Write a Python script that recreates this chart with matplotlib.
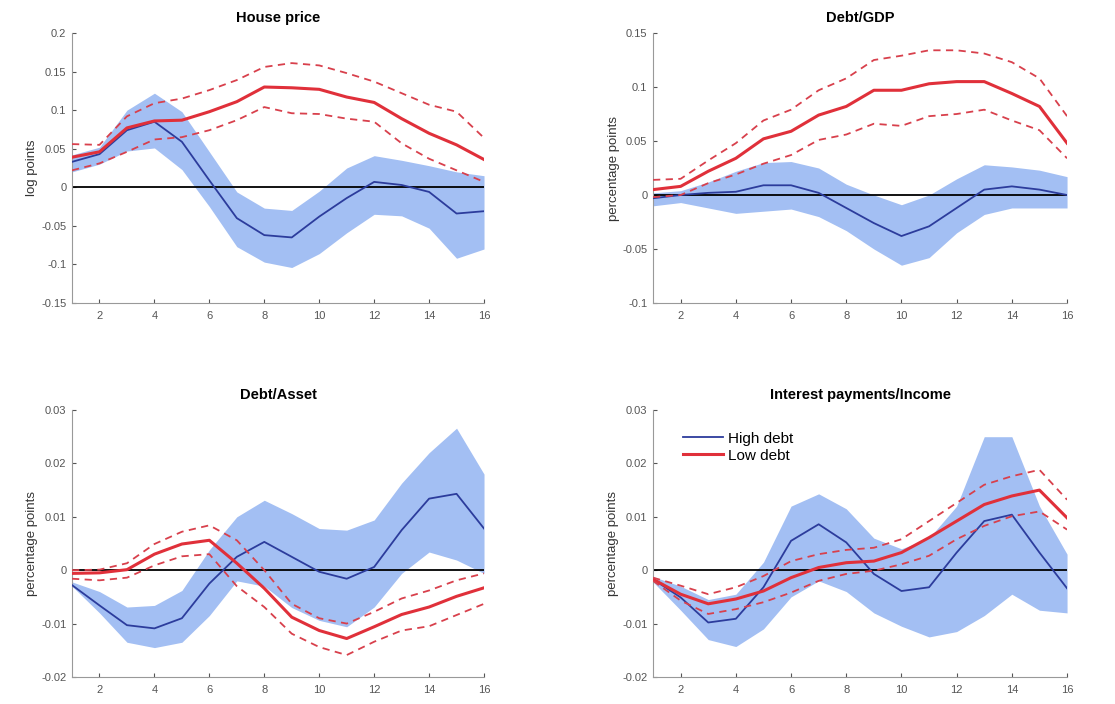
import matplotlib.pyplot as plt
import numpy as np
from matplotlib.ticker import FormatStrFormatter, FuncFormatter

plt.rcParams['font.family'] = ['Liberation Sans', 'DejaVu Sans']

h = np.arange(1, 17)

# House price
hp_low = [0.039, 0.046, 0.077, 0.086, 0.087, 0.098, 0.111, 0.130, 0.129, 0.127, 0.117, 0.110, 0.089, 0.070, 0.055, 0.036]
hp_low_up = [0.056, 0.055, 0.092, 0.109, 0.115, 0.126, 0.139, 0.156, 0.161, 0.158, 0.148, 0.137, 0.122, 0.107, 0.098, 0.064]
hp_low_lo = [0.022, 0.031, 0.046, 0.062, 0.065, 0.074, 0.087, 0.104, 0.096, 0.095, 0.089, 0.085, 0.057, 0.037, 0.022, 0.007]
hp_high = [0.033, 0.043, 0.074, 0.085, 0.059, 0.009, -0.040, -0.062, -0.065, -0.038, -0.014, 0.007, 0.003, -0.006, -0.034, -0.031]
hp_high_up = [0.042, 0.052, 0.100, 0.122, 0.098, 0.046, -0.006, -0.027, -0.030, -0.005, 0.025, 0.041, 0.035, 0.028, 0.020, 0.015]
hp_high_lo = [0.020, 0.030, 0.047, 0.051, 0.023, -0.025, -0.077, -0.097, -0.104, -0.086, -0.059, -0.035, -0.037, -0.053, -0.092, -0.080]

# Debt/GDP
dg_low = [0.005, 0.008, 0.022, 0.034, 0.052, 0.059, 0.074, 0.082, 0.097, 0.097, 0.103, 0.105, 0.105, 0.094, 0.082, 0.048]
dg_low_up = [0.014, 0.015, 0.032, 0.048, 0.069, 0.079, 0.097, 0.108, 0.125, 0.129, 0.134, 0.134, 0.131, 0.123, 0.108, 0.073]
dg_low_lo = [-0.002, 0.000, 0.011, 0.019, 0.029, 0.037, 0.051, 0.056, 0.066, 0.064, 0.073, 0.075, 0.079, 0.069, 0.060, 0.034]
dg_high = [-0.003, 0.000, 0.002, 0.003, 0.009, 0.009, 0.002, -0.012, -0.026, -0.038, -0.029, -0.012, 0.005, 0.008, 0.005, 0.000]
dg_high_up = [0.002, 0.004, 0.012, 0.022, 0.030, 0.031, 0.025, 0.010, 0.000, -0.009, 0.000, 0.015, 0.028, 0.026, 0.023, 0.017]
dg_high_lo = [-0.010, -0.007, -0.012, -0.017, -0.015, -0.013, -0.020, -0.033, -0.050, -0.065, -0.058, -0.035, -0.018, -0.012, -0.012, -0.012]

# Debt/Asset
da_low = [-0.0006, -0.0005, 0.0001, 0.0030, 0.0049, 0.0056, 0.0013, -0.0034, -0.0088, -0.0113, -0.0128, -0.0106, -0.0083, -0.0069, -0.0049, -0.0033]
da_low_up = [0.0000, 0.0001, 0.0013, 0.0049, 0.0072, 0.0084, 0.0056, 0.0000, -0.0063, -0.0090, -0.0100, -0.0078, -0.0053, -0.0038, -0.0019, -0.0006]
da_low_lo = [-0.0016, -0.0019, -0.0014, 0.0009, 0.0026, 0.0030, -0.0030, -0.0069, -0.0119, -0.0144, -0.0159, -0.0134, -0.0113, -0.0105, -0.0084, -0.0063]
da_high = [-0.0028, -0.0066, -0.0103, -0.0109, -0.0090, -0.0025, 0.0025, 0.0053, 0.0025, -0.0003, -0.0016, 0.0006, 0.0075, 0.0134, 0.0143, 0.0078]
da_high_up = [-0.0022, -0.0040, -0.0069, -0.0066, -0.0038, 0.0038, 0.0100, 0.0131, 0.0106, 0.0078, 0.0075, 0.0094, 0.0163, 0.0220, 0.0266, 0.0180]
da_high_lo = [-0.0030, -0.0080, -0.0135, -0.0145, -0.0135, -0.0085, -0.0020, -0.0030, -0.0070, -0.0094, -0.0106, -0.0069, -0.0006, 0.0034, 0.0019, -0.0006]

# Interest payments/Income
ip_low = [-0.0017, -0.0045, -0.0063, -0.0054, -0.0039, -0.0014, 0.0005, 0.0014, 0.0017, 0.0033, 0.0061, 0.0092, 0.0123, 0.0139, 0.0150, 0.0098]
ip_low_up = [-0.0014, -0.0029, -0.0045, -0.0032, -0.0011, 0.0017, 0.0030, 0.0038, 0.0042, 0.0058, 0.0092, 0.0126, 0.0160, 0.0176, 0.0188, 0.0132]
ip_low_lo = [-0.0020, -0.0057, -0.0082, -0.0073, -0.0060, -0.0042, -0.0020, -0.0007, -0.0001, 0.0011, 0.0027, 0.0058, 0.0083, 0.0101, 0.0110, 0.0076]
ip_high = [-0.0017, -0.0051, -0.0098, -0.0091, -0.0032, 0.0055, 0.0086, 0.0052, -0.0007, -0.0039, -0.0032, 0.0033, 0.0092, 0.0104, 0.0033, -0.0034]
ip_high_up = [-0.0012, -0.0030, -0.0055, -0.0045, 0.0015, 0.0120, 0.0143, 0.0115, 0.0060, 0.0040, 0.0060, 0.0120, 0.0250, 0.0250, 0.0120, 0.0030]
ip_high_lo = [-0.0022, -0.0075, -0.0130, -0.0143, -0.0110, -0.0050, -0.0020, -0.0040, -0.0080, -0.0105, -0.0125, -0.0115, -0.0085, -0.0045, -0.0075, -0.0080]

panels = [
    ('House price', 'log points', hp_low, hp_low_up, hp_low_lo, hp_high, hp_high_up, hp_high_lo,
     (-0.15, 0.2), np.arange(-0.15, 0.21, 0.05)),
    ('Debt/GDP', 'percentage points', dg_low, dg_low_up, dg_low_lo, dg_high, dg_high_up, dg_high_lo,
     (-0.1, 0.15), np.arange(-0.1, 0.16, 0.05)),
    ('Debt/Asset', 'percentage points', da_low, da_low_up, da_low_lo, da_high, da_high_up, da_high_lo,
     (-0.02, 0.03), np.arange(-0.02, 0.031, 0.01)),
    ('Interest payments/Income', 'percentage points', ip_low, ip_low_up, ip_low_lo, ip_high, ip_high_up, ip_high_lo,
     (-0.02, 0.03), np.arange(-0.02, 0.031, 0.01)),
]

# axes positions in figure fractions (left, bottom, width, height)
positions = [
    (0.0646, 0.5696, 0.3695, 0.3835),
    (0.5857, 0.5696, 0.3713, 0.3835),
    (0.0646, 0.0384, 0.3695, 0.3792),
    (0.5857, 0.0384, 0.3713, 0.3792),
]

fill_col = '#a3bff3'
blue = '#2c3c9c'
red = '#e0303a'
red_dash = '#d8404c'

fig = plt.figure(figsize=(11.15, 7.04), dpi=100)

for i, (title, ylab, low, low_up, low_lo, high, high_up, high_lo, ylim, yt) in enumerate(panels):
    ax = fig.add_axes(positions[i])
    ax.fill_between(h, high_lo, high_up, color=fill_col, linewidth=0, zorder=1)
    l_high, = ax.plot(h, high, color=blue, lw=1.3, zorder=3, label='High debt')
    l_low, = ax.plot(h, low, color=red, lw=2.2, zorder=4, label='Low debt')
    ax.plot(h, low_up, color=red_dash, lw=1.3, ls=(0, (4, 3)), zorder=4)
    ax.plot(h, low_lo, color=red_dash, lw=1.3, ls=(0, (4, 3)), zorder=4)
    ax.plot([1, 16], [0, 0], color='black', lw=1.3, zorder=2)

    ax.set_xlim(1, 16)
    ax.set_ylim(*ylim)
    ax.set_xticks(np.arange(2, 17, 2))
    ax.set_yticks(yt)
    ax.yaxis.set_major_formatter(FuncFormatter(lambda v, p: '%g' % round(v, 4)))
    ax.tick_params(direction='in', length=3, labelsize=8, colors='#555555', pad=4)
    ax.tick_params(axis='x', pad=6)
    for s in ['top', 'right']:
        ax.spines[s].set_visible(False)
    for s in ['left', 'bottom']:
        ax.spines[s].set_color('#999999')
        ax.spines[s].set_linewidth(0.8)
    ax.set_title(title, fontsize=10.5, fontweight='bold', pad=8)
    ax.set_ylabel(ylab, fontsize=9.5, color='#333333', labelpad=2)

    if i == 3:
        ax.legend(handles=[l_high, l_low], loc='upper left', frameon=False, fontsize=11,
                  handlelength=2.6, handletextpad=0.3, labelspacing=0.2,
                  bbox_to_anchor=(0.04, 0.97))

fig.savefig('out.png', dpi=100)
